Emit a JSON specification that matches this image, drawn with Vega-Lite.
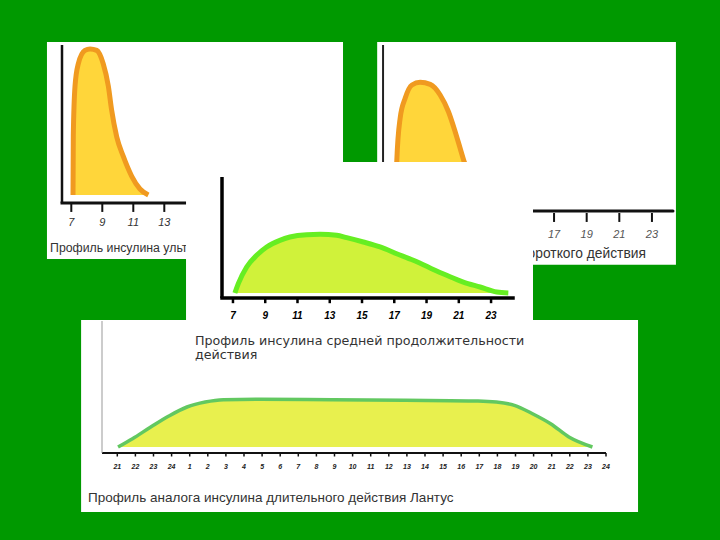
{
  "$schema": "https://vega.github.io/schema/vega-lite/v6.json",
  "width": 720,
  "height": 540,
  "autosize": {"type": "none"},
  "padding": 0,
  "background": "#009900",
  "config": {"view": {"stroke": null}, "axis": {"disable": true}},
  "datasets": {
    "ultra": [
      {"h": 7.11, "v": 0}, {"h": 7.13, "v": 40}, {"h": 7.24, "v": 73}, {"h": 7.45, "v": 88},
      {"h": 7.88, "v": 97}, {"h": 8.21, "v": 98}, {"h": 8.64, "v": 97}, {"h": 9.06, "v": 88},
      {"h": 9.39, "v": 73}, {"h": 9.6, "v": 57}, {"h": 9.93, "v": 39}, {"h": 10.35, "v": 26},
      {"h": 10.9, "v": 12.5}, {"h": 11.43, "v": 4}, {"h": 11.97, "v": 0}
    ],
    "short": [
      {"h": 7.27, "v": 0}, {"h": 7.36, "v": 36.7}, {"h": 7.57, "v": 71.3}, {"h": 7.88, "v": 87.1},
      {"h": 8.29, "v": 97.4}, {"h": 8.79, "v": 99.5}, {"h": 9.41, "v": 97.9}, {"h": 10.02, "v": 89.5},
      {"h": 10.53, "v": 76.2}, {"h": 10.94, "v": 60.4}, {"h": 11.24, "v": 47.5}, {"h": 11.49, "v": 36.7},
      {"h": 12.16, "v": 18}, {"h": 13.08, "v": 6}, {"h": 14, "v": 0}
    ],
    "medium": [
      {"h": 7.12, "v": 0}, {"h": 7.33, "v": 15.5}, {"h": 7.85, "v": 43.3}, {"h": 8.47, "v": 62.8},
      {"h": 9.09, "v": 76.7}, {"h": 9.91, "v": 87.8}, {"h": 10.53, "v": 93.3}, {"h": 11.57, "v": 97.2},
      {"h": 12.4, "v": 97.8}, {"h": 13.43, "v": 96.2}, {"h": 14.05, "v": 92.2}, {"h": 15.08, "v": 85},
      {"h": 16.12, "v": 76.7}, {"h": 17.15, "v": 65.5}, {"h": 18.18, "v": 54.5}, {"h": 19.22, "v": 41.7},
      {"h": 20.25, "v": 29.5}, {"h": 21.28, "v": 18.3}, {"h": 22.32, "v": 10}, {"h": 23.35, "v": 1.7},
      {"h": 24.07, "v": 0}
    ],
    "lantus": [
      {"h": 0.04, "v": 0}, {"h": 0.84, "v": 16.6}, {"h": 1.85, "v": 40}, {"h": 2.85, "v": 62},
      {"h": 3.85, "v": 80}, {"h": 4.86, "v": 90}, {"h": 5.87, "v": 94.6}, {"h": 7.87, "v": 95.4},
      {"h": 11.89, "v": 94.6}, {"h": 15.9, "v": 93.4}, {"h": 19.93, "v": 92}, {"h": 20.93, "v": 90},
      {"h": 21.94, "v": 83.4}, {"h": 22.94, "v": 66.6}, {"h": 23.94, "v": 46.6}, {"h": 24.95, "v": 20},
      {"h": 26.25, "v": 0}
    ],
    "ticks1": [{"t": 7}, {"t": 9}, {"t": 11}, {"t": 13}],
    "ticks2": [{"t": 17}, {"t": 19}, {"t": 21}, {"t": 23}],
    "ticks3": [{"t": 7}, {"t": 9}, {"t": 11}, {"t": 13}, {"t": 15}, {"t": 17}, {"t": 19}, {"t": 21}, {"t": 23}],
    "ticks4": [
      {"t": 0, "clock": "21"}, {"t": 1, "clock": "22"}, {"t": 2, "clock": "23"}, {"t": 3, "clock": "24"},
      {"t": 4, "clock": "1"}, {"t": 5, "clock": "2"}, {"t": 6, "clock": "3"}, {"t": 7, "clock": "4"},
      {"t": 8, "clock": "5"}, {"t": 9, "clock": "6"}, {"t": 10, "clock": "7"}, {"t": 11, "clock": "8"},
      {"t": 12, "clock": "9"}, {"t": 13, "clock": "10"}, {"t": 14, "clock": "11"}, {"t": 15, "clock": "12"},
      {"t": 16, "clock": "13"}, {"t": 17, "clock": "14"}, {"t": 18, "clock": "15"}, {"t": 19, "clock": "16"},
      {"t": 20, "clock": "17"}, {"t": 21, "clock": "18"}, {"t": 22, "clock": "19"}, {"t": 23, "clock": "20"},
      {"t": 24, "clock": "21"}, {"t": 25, "clock": "22"}, {"t": 26, "clock": "23"}, {"t": 27, "clock": "24"}
    ]
  },
  "layer": [
    {
      "layer": [
        {
          "data": {"values": [{}]},
          "mark": {"type": "rect", "fill": "#ffffff"},
          "encoding": {
            "x": {"datum": 5.43, "type": "quantitative", "scale": {"domain": [6.4, 14.4], "range": [62, 186], "nice": false, "zero": false}},
            "x2": {"datum": 24.53},
            "y": {"datum": 102.6, "type": "quantitative", "scale": {"domain": [-5.4, 100.6], "range": [203, 45], "nice": false, "zero": false}},
            "y2": {"datum": -43}
          }
        },
        {
          "data": {"name": "ultra"},
          "mark": {"type": "area", "fill": "#ffd63a", "interpolate": "monotone"},
          "encoding": {
            "x": {"field": "h", "type": "quantitative", "scale": {"domain": [6.4, 14.4], "range": [62, 186], "nice": false, "zero": false}},
            "y": {"field": "v", "type": "quantitative", "scale": {"domain": [-5.4, 100.6], "range": [203, 45], "nice": false, "zero": false}},
            "y2": {"datum": 0}
          }
        },
        {
          "data": {"name": "ultra"},
          "mark": {"type": "line", "stroke": "#f09a20", "strokeWidth": 5, "interpolate": "monotone"},
          "encoding": {
            "x": {"field": "h", "type": "quantitative", "scale": {"domain": [6.4, 14.4], "range": [62, 186], "nice": false, "zero": false}},
            "y": {"field": "v", "type": "quantitative", "scale": {"domain": [-5.4, 100.6], "range": [203, 45], "nice": false, "zero": false}}
          }
        },
        {
          "data": {"values": [{}]},
          "mark": {"type": "rule", "stroke": "#111111", "strokeWidth": 3, "strokeCap": "square"},
          "encoding": {
            "x": {"datum": 6.4, "type": "quantitative", "scale": {"domain": [6.4, 14.4], "range": [62, 186], "nice": false, "zero": false}},
            "x2": {"datum": 14.4},
            "y": {"datum": -5.4, "type": "quantitative", "scale": {"domain": [-5.4, 100.6], "range": [203, 45], "nice": false, "zero": false}}
          }
        },
        {
          "data": {"values": [{}]},
          "mark": {"type": "rule", "stroke": "#111111", "strokeWidth": 2.5},
          "encoding": {
            "x": {"datum": 6.4, "type": "quantitative", "scale": {"domain": [6.4, 14.4], "range": [62, 186], "nice": false, "zero": false}},
            "y": {"datum": -5.4, "type": "quantitative", "scale": {"domain": [-5.4, 100.6], "range": [203, 45], "nice": false, "zero": false}},
            "y2": {"datum": 100.6}
          }
        },
        {
          "data": {"name": "ticks1"},
          "mark": {"type": "rule", "stroke": "#111111", "strokeWidth": 2},
          "encoding": {
            "x": {"field": "t", "type": "quantitative", "scale": {"domain": [6.4, 14.4], "range": [62, 186], "nice": false, "zero": false}},
            "y": {"datum": -5.4, "type": "quantitative", "scale": {"domain": [-5.4, 100.6], "range": [203, 45], "nice": false, "zero": false}},
            "y2": {"datum": -11.4}
          }
        },
        {
          "data": {"name": "ticks1"},
          "mark": {"type": "text", "align": "center", "baseline": "middle", "font": "Liberation Sans", "fontStyle": "italic", "fontSize": 11, "color": "#333333"},
          "encoding": {
            "x": {"field": "t", "type": "quantitative", "scale": {"domain": [6.4, 14.4], "range": [62, 186], "nice": false, "zero": false}},
            "y": {"datum": -18.8, "type": "quantitative", "scale": {"domain": [-5.4, 100.6], "range": [203, 45], "nice": false, "zero": false}},
            "text": {"field": "t", "type": "quantitative"}
          }
        },
        {
          "data": {"values": [{}]},
          "mark": {"type": "text", "align": "left", "baseline": "alphabetic", "font": "Liberation Sans", "fontSize": 12.3, "color": "#333333"},
          "encoding": {
            "x": {"datum": 5.63, "type": "quantitative", "scale": {"domain": [6.4, 14.4], "range": [62, 186], "nice": false, "zero": false}},
            "y": {"datum": -38.3, "type": "quantitative", "scale": {"domain": [-5.4, 100.6], "range": [203, 45], "nice": false, "zero": false}},
            "text": {"value": "Профиль инсулина ультракороткого действия"}
          }
        }
      ]
    },
    {
      "layer": [
        {
          "data": {"values": [{}]},
          "mark": {"type": "rect", "fill": "#ffffff"},
          "encoding": {
            "x": {"datum": 6.16, "type": "quantitative", "scale": {"domain": [15.71, 24.29], "range": [533, 673], "nice": false, "zero": false}},
            "x2": {"datum": 24.47},
            "y": {"datum": 131.4, "type": "quantitative", "scale": {"domain": [36.4, 129.1], "range": [162, 45], "nice": false, "zero": false}},
            "y2": {"datum": -45.1}
          }
        },
        {
          "data": {"name": "short"},
          "mark": {"type": "area", "fill": "#ffd63a", "interpolate": "monotone"},
          "encoding": {
            "x": {"field": "h", "type": "quantitative", "scale": {"domain": [15.71, 24.29], "range": [533, 673], "nice": false, "zero": false}},
            "y": {"field": "v", "type": "quantitative", "scale": {"domain": [36.4, 129.1], "range": [162, 45], "nice": false, "zero": false}},
            "y2": {"datum": 0}
          }
        },
        {
          "data": {"name": "short"},
          "mark": {"type": "line", "stroke": "#f09a20", "strokeWidth": 5, "interpolate": "monotone"},
          "encoding": {
            "x": {"field": "h", "type": "quantitative", "scale": {"domain": [15.71, 24.29], "range": [533, 673], "nice": false, "zero": false}},
            "y": {"field": "v", "type": "quantitative", "scale": {"domain": [36.4, 129.1], "range": [162, 45], "nice": false, "zero": false}}
          }
        },
        {
          "data": {"values": [{}]},
          "mark": {"type": "rule", "stroke": "#111111", "strokeWidth": 3, "strokeCap": "round"},
          "encoding": {
            "x": {"datum": 6.52, "type": "quantitative", "scale": {"domain": [15.71, 24.29], "range": [533, 673], "nice": false, "zero": false}},
            "x2": {"datum": 24.29},
            "y": {"datum": -2.42, "type": "quantitative", "scale": {"domain": [36.4, 129.1], "range": [162, 45], "nice": false, "zero": false}}
          }
        },
        {
          "data": {"values": [{}]},
          "mark": {"type": "rule", "stroke": "#222222", "strokeWidth": 2},
          "encoding": {
            "x": {"datum": 6.52, "type": "quantitative", "scale": {"domain": [15.71, 24.29], "range": [533, 673], "nice": false, "zero": false}},
            "y": {"datum": -2.42, "type": "quantitative", "scale": {"domain": [36.4, 129.1], "range": [162, 45], "nice": false, "zero": false}},
            "y2": {"datum": 129.1}
          }
        },
        {
          "data": {"name": "ticks2"},
          "mark": {"type": "rule", "stroke": "#111111", "strokeWidth": 2},
          "encoding": {
            "x": {"field": "t", "type": "quantitative", "scale": {"domain": [15.71, 24.29], "range": [533, 673], "nice": false, "zero": false}},
            "y": {"datum": -4.0, "type": "quantitative", "scale": {"domain": [36.4, 129.1], "range": [162, 45], "nice": false, "zero": false}},
            "y2": {"datum": -11.1}
          }
        },
        {
          "data": {"name": "ticks2"},
          "mark": {"type": "text", "align": "center", "baseline": "middle", "font": "Liberation Sans", "fontStyle": "italic", "fontSize": 11, "color": "#555555"},
          "encoding": {
            "x": {"field": "t", "type": "quantitative", "scale": {"domain": [15.71, 24.29], "range": [533, 673], "nice": false, "zero": false}},
            "y": {"datum": -21.4, "type": "quantitative", "scale": {"domain": [36.4, 129.1], "range": [162, 45], "nice": false, "zero": false}},
            "text": {"field": "t", "type": "quantitative"}
          }
        },
        {
          "data": {"values": [{}]},
          "mark": {"type": "text", "align": "right", "baseline": "alphabetic", "font": "Liberation Sans", "fontSize": 13.8, "color": "#333333"},
          "encoding": {
            "x": {"datum": 22.63, "type": "quantitative", "scale": {"domain": [15.71, 24.29], "range": [533, 673], "nice": false, "zero": false}},
            "y": {"datum": -39.6, "type": "quantitative", "scale": {"domain": [36.4, 129.1], "range": [162, 45], "nice": false, "zero": false}},
            "text": {"value": "Профиль инсулина короткого действия"}
          }
        }
      ]
    },
    {
      "layer": [
        {
          "data": {"values": [{}]},
          "mark": {"type": "rect", "fill": "#ffffff"},
          "encoding": {
            "x": {"datum": -2.0, "type": "quantitative", "scale": {"domain": [-0.845, 27], "range": [102, 606], "nice": false, "zero": false}},
            "x2": {"datum": 28.77},
            "y": {"datum": 254, "type": "quantitative", "scale": {"domain": [-12, 252], "range": [453, 321], "nice": false, "zero": false}},
            "y2": {"datum": -130}
          }
        },
        {
          "data": {"name": "lantus"},
          "mark": {"type": "area", "fill": "#e8f04e", "interpolate": "monotone"},
          "encoding": {
            "x": {"field": "h", "type": "quantitative", "scale": {"domain": [-0.845, 27], "range": [102, 606], "nice": false, "zero": false}},
            "y": {"field": "v", "type": "quantitative", "scale": {"domain": [-12, 252], "range": [453, 321], "nice": false, "zero": false}},
            "y2": {"datum": 0}
          }
        },
        {
          "data": {"name": "lantus"},
          "mark": {"type": "line", "stroke": "#62c860", "strokeWidth": 3.5, "interpolate": "monotone"},
          "encoding": {
            "x": {"field": "h", "type": "quantitative", "scale": {"domain": [-0.845, 27], "range": [102, 606], "nice": false, "zero": false}},
            "y": {"field": "v", "type": "quantitative", "scale": {"domain": [-12, 252], "range": [453, 321], "nice": false, "zero": false}}
          }
        },
        {
          "data": {"values": [{}]},
          "mark": {"type": "rule", "stroke": "#111111", "strokeWidth": 2},
          "encoding": {
            "x": {"datum": -0.845, "type": "quantitative", "scale": {"domain": [-0.845, 27], "range": [102, 606], "nice": false, "zero": false}},
            "x2": {"datum": 27},
            "y": {"datum": -12, "type": "quantitative", "scale": {"domain": [-12, 252], "range": [453, 321], "nice": false, "zero": false}}
          }
        },
        {
          "data": {"values": [{}]},
          "mark": {"type": "rule", "stroke": "#999999", "strokeWidth": 1},
          "encoding": {
            "x": {"datum": -0.845, "type": "quantitative", "scale": {"domain": [-0.845, 27], "range": [102, 606], "nice": false, "zero": false}},
            "y": {"datum": -12, "type": "quantitative", "scale": {"domain": [-12, 252], "range": [453, 321], "nice": false, "zero": false}},
            "y2": {"datum": 252}
          }
        },
        {
          "data": {"name": "ticks4"},
          "mark": {"type": "rule", "stroke": "#111111", "strokeWidth": 1.5},
          "encoding": {
            "x": {"field": "t", "type": "quantitative", "scale": {"domain": [-0.845, 27], "range": [102, 606], "nice": false, "zero": false}},
            "y": {"datum": -12, "type": "quantitative", "scale": {"domain": [-12, 252], "range": [453, 321], "nice": false, "zero": false}},
            "y2": {"datum": -19}
          }
        },
        {
          "data": {"name": "ticks4"},
          "mark": {"type": "text", "align": "center", "baseline": "middle", "font": "Liberation Sans", "fontStyle": "italic", "fontWeight": "bold", "fontSize": 7, "color": "#222222"},
          "encoding": {
            "x": {"field": "t", "type": "quantitative", "scale": {"domain": [-0.845, 27], "range": [102, 606], "nice": false, "zero": false}},
            "y": {"datum": -40, "type": "quantitative", "scale": {"domain": [-12, 252], "range": [453, 321], "nice": false, "zero": false}},
            "text": {"field": "clock", "type": "nominal"}
          }
        },
        {
          "data": {"values": [{}]},
          "mark": {"type": "text", "align": "left", "baseline": "alphabetic", "font": "Liberation Sans", "fontSize": 13.5, "color": "#333333"},
          "encoding": {
            "x": {"datum": -1.62, "type": "quantitative", "scale": {"domain": [-0.845, 27], "range": [102, 606], "nice": false, "zero": false}},
            "y": {"datum": -110, "type": "quantitative", "scale": {"domain": [-12, 252], "range": [453, 321], "nice": false, "zero": false}},
            "text": {"value": "Профиль аналога инсулина длительного действия Лантус"}
          }
        }
      ]
    },
    {
      "layer": [
        {
          "data": {"values": [{}]},
          "mark": {"type": "rect", "fill": "#ffffff"},
          "encoding": {
            "x": {"datum": 4.09, "type": "quantitative", "scale": {"domain": [6.32, 24.36], "range": [222, 513], "nice": false, "zero": false}},
            "x2": {"datum": 25.6},
            "y": {"datum": 218.33, "type": "quantitative", "scale": {"domain": [-8.33, 193.33], "range": [298, 177], "nice": false, "zero": false}},
            "y2": {"datum": -48.33}
          }
        },
        {
          "data": {"name": "medium"},
          "mark": {"type": "area", "fill": "#d0f23a", "interpolate": "monotone"},
          "encoding": {
            "x": {"field": "h", "type": "quantitative", "scale": {"domain": [6.32, 24.36], "range": [222, 513], "nice": false, "zero": false}},
            "y": {"field": "v", "type": "quantitative", "scale": {"domain": [-8.33, 193.33], "range": [298, 177], "nice": false, "zero": false}},
            "y2": {"datum": 0}
          }
        },
        {
          "data": {"name": "medium"},
          "mark": {"type": "line", "stroke": "#66ee22", "strokeWidth": 5, "interpolate": "monotone"},
          "encoding": {
            "x": {"field": "h", "type": "quantitative", "scale": {"domain": [6.32, 24.36], "range": [222, 513], "nice": false, "zero": false}},
            "y": {"field": "v", "type": "quantitative", "scale": {"domain": [-8.33, 193.33], "range": [298, 177], "nice": false, "zero": false}}
          }
        },
        {
          "data": {"values": [{}]},
          "mark": {"type": "rule", "stroke": "#000000", "strokeWidth": 3.5, "strokeCap": "square"},
          "encoding": {
            "x": {"datum": 6.32, "type": "quantitative", "scale": {"domain": [6.32, 24.36], "range": [222, 513], "nice": false, "zero": false}},
            "x2": {"datum": 24.36},
            "y": {"datum": -8.33, "type": "quantitative", "scale": {"domain": [-8.33, 193.33], "range": [298, 177], "nice": false, "zero": false}}
          }
        },
        {
          "data": {"values": [{}]},
          "mark": {"type": "rule", "stroke": "#000000", "strokeWidth": 3.5},
          "encoding": {
            "x": {"datum": 6.32, "type": "quantitative", "scale": {"domain": [6.32, 24.36], "range": [222, 513], "nice": false, "zero": false}},
            "y": {"datum": -8.33, "type": "quantitative", "scale": {"domain": [-8.33, 193.33], "range": [298, 177], "nice": false, "zero": false}},
            "y2": {"datum": 193.33}
          }
        },
        {
          "data": {"name": "ticks3"},
          "mark": {"type": "rule", "stroke": "#000000", "strokeWidth": 2.5},
          "encoding": {
            "x": {"field": "t", "type": "quantitative", "scale": {"domain": [6.32, 24.36], "range": [222, 513], "nice": false, "zero": false}},
            "y": {"datum": -8.33, "type": "quantitative", "scale": {"domain": [-8.33, 193.33], "range": [298, 177], "nice": false, "zero": false}},
            "y2": {"datum": -17}
          }
        },
        {
          "data": {"name": "ticks3"},
          "mark": {"type": "text", "align": "center", "baseline": "middle", "font": "Liberation Sans", "fontStyle": "italic", "fontWeight": "bold", "fontSize": 10, "color": "#000000"},
          "encoding": {
            "x": {"field": "t", "type": "quantitative", "scale": {"domain": [6.32, 24.36], "range": [222, 513], "nice": false, "zero": false}},
            "y": {"datum": -37.5, "type": "quantitative", "scale": {"domain": [-8.33, 193.33], "range": [298, 177], "nice": false, "zero": false}},
            "text": {"field": "t", "type": "quantitative"}
          }
        },
        {
          "data": {"values": [{}]},
          "mark": {"type": "text", "align": "left", "baseline": "alphabetic", "font": "DejaVu Sans", "fontSize": 12.7, "lineHeight": 14, "color": "#333333"},
          "encoding": {
            "x": {"datum": 4.64, "type": "quantitative", "scale": {"domain": [6.32, 24.36], "range": [222, 513], "nice": false, "zero": false}},
            "y": {"datum": -86.67, "type": "quantitative", "scale": {"domain": [-8.33, 193.33], "range": [298, 177], "nice": false, "zero": false}},
            "text": {"value": ["Профиль инсулина средней продолжительности", "действия"]}
          }
        }
      ]
    }
  ],
  "resolve": {"scale": {"x": "independent", "y": "independent"}}
}
